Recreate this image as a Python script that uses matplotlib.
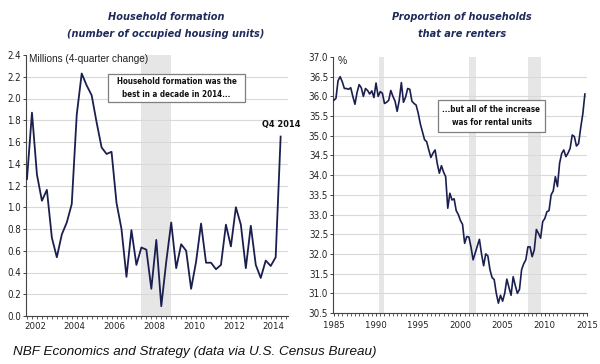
import matplotlib
matplotlib.use("Agg")
import matplotlib.pyplot as plt
import matplotlib.font_manager as fm
from matplotlib.patches import Rectangle
import numpy as np

# ---------------- data ----------------
# Household formation, millions (4-quarter change), quarterly 2002Q1..2014Q4
hh_start_year = 2002
hh_values = [1.26, 1.87, 1.30, 1.06, 1.16, 0.72, 0.54, 0.75,
             0.86, 1.03, 1.85, 2.23, 2.12, 2.03, 1.78, 1.55,
             1.49, 1.51, 1.04, 0.80, 0.36, 0.79, 0.47, 0.63,
             0.61, 0.25, 0.70, 0.09, 0.50, 0.86, 0.44, 0.66,
             0.60, 0.25, 0.50, 0.85, 0.49, 0.49, 0.43, 0.47,
             0.84, 0.64, 1.00, 0.84, 0.44, 0.83, 0.47, 0.35,
             0.51, 0.46, 0.54, 1.65]

# Proportion of households that are renters, %, quarterly 1985Q1..2014Q4
rent_start_year = 1985
rent_values = [35.90, 35.95, 36.40, 36.50, 36.37, 36.20, 36.20, 36.18,  # 85-86
               36.22, 36.00, 35.80, 36.10, 36.30, 36.22, 36.00, 36.20,  # 87-88
               36.15, 36.06, 36.14, 35.97, 36.34, 36.00, 36.12, 36.08,  # 89-90
               35.82, 35.85, 35.90, 36.15, 36.00, 35.88, 35.62, 35.90,  # 91-92
               36.35, 35.85, 35.98, 36.20, 36.18, 35.88, 35.82, 35.78,  # 93-94
               35.57, 35.30, 35.10, 34.90, 34.85, 34.64, 34.45, 34.56,  # 95-96
               34.64, 34.30, 34.05, 34.24, 34.08, 33.96, 33.16, 33.54,  # 97-98
               33.37, 33.40, 33.10, 33.00, 32.85, 32.75, 32.27, 32.44,  # 99-00
               32.43, 32.18, 31.85, 32.02, 32.20, 32.37, 32.00, 31.70,  # 01-02
               32.00, 31.95, 31.60, 31.40, 31.35, 31.00, 30.75, 30.95,  # 03-04
               30.80, 31.00, 31.36, 31.15, 30.95, 31.42, 31.20, 31.00,  # 05-06
               31.10, 31.60, 31.75, 31.85, 32.18, 32.18, 31.93, 32.10,  # 07-08
               32.62, 32.52, 32.40, 32.82, 32.90, 33.07, 33.10, 33.50,  # 09-10
               33.60, 33.96, 33.71, 34.30, 34.55, 34.64, 34.47, 34.56,  # 11-12
               34.68, 35.02, 34.98, 34.74, 34.80, 35.20, 35.55, 36.06]  # 13-14

hh_year_labels = [2002, 2004, 2006, 2008, 2010, 2012, 2014]
rent_year_labels = [1985, 1990, 1995, 2000, 2005, 2010, 2015]
hh_yticks = [0.0, 0.2, 0.4, 0.6, 0.8, 1.0, 1.2, 1.4, 1.6, 1.8, 2.0, 2.2, 2.4]
rent_yticks = [30.5, 31.0, 31.5, 32.0, 32.5, 33.0, 33.5, 34.0, 34.5, 35.0, 35.5, 36.0, 36.5, 37.0]

hh_recessions = [(2007.75, 2009.25)]
rent_recessions = [(1990.4, 1990.9), (2001.0, 2001.8), (2008.0, 2009.5)]

# ---------------- fonts ----------------
def _is_cond(f):
    st = f.stretch
    if isinstance(st, str):
        if "condensed" in st:
            return True
    elif isinstance(st, (int, float)) and st < 500:
        return True
    return ("Narrow" in f.name) or ("Condensed" in f.name) or \
        ("Narrow" in f.fname) or ("Condensed" in f.fname)

def _is_bold(f):
    w = f.weight
    if isinstance(w, str):
        return w in ("bold", "heavy", "black", "demibold", "semibold", "extra bold")
    return w >= 600

def find_cond(bold, italic=False):
    prefs = ["Liberation Sans Narrow", "Arial Narrow", "DejaVu Sans", "Roboto Condensed",
             "Roboto", "Open Sans", "Noto Sans", "Lato", "Inter"]
    cands = [f for f in fm.fontManager.ttflist
             if _is_cond(f) and ((f.style != "normal") == italic) and _is_bold(f) == bold]
    for p in prefs:
        for f in cands:
            if f.name == p:
                return f.fname
    return cands[0].fname if cands else None

def narrow_fp(size, bold=False, italic=False):
    fn = find_cond(bold, italic)
    if fn:
        return fm.FontProperties(fname=fn, size=size)
    return fm.FontProperties(family="Liberation Sans", size=size * 0.85,
                             weight="bold" if bold else "normal",
                             style="italic" if italic else "normal")

SANS = ["Liberation Sans", "DejaVu Sans"]

# ---------------- style ----------------
LINE = "#1b1f50"
TITLE = "#1f2a5a"
SHADE = "#e6e6e6"
GRID = "#d9d9d9"
W, H = 600.0, 364.0

fig = plt.figure(figsize=(6.0, 3.64), dpi=100)

def style_axes(ax, yticks, fmt):
    for s in ["top", "right"]:
        ax.spines[s].set_visible(False)
    for s in ["left", "bottom"]:
        ax.spines[s].set_color("#444444")
        ax.spines[s].set_linewidth(0.8)
    ax.set_yticks(yticks)
    ax.set_yticklabels([fmt.format(v) for v in yticks], fontproperties=narrow_fp(7))
    ax.tick_params(axis="y", length=2.5, width=0.6, pad=1, colors="#222222")
    for v in yticks[:-1]:
        ax.axhline(v, color=GRID, lw=0.8, zorder=0)

def note_box(x0, x1, y0, y1, text):
    fig.add_artist(Rectangle((x0/W, 1-y1/H), (x1-x0)/W, (y1-y0)/H,
                             transform=fig.transFigure, fc="white", ec="#7f7f7f",
                             lw=0.9, zorder=5))
    fig.text((x0+x1)/2/W, 1-(y0+y1)/2/H, text, fontproperties=narrow_fp(5.8, bold=True),
             ha="center", va="center", linespacing=1.6, color="#111111", zorder=6)

def title2(xc, l1, l2):
    fp = narrow_fp(7.8, bold=True, italic=True)
    fig.text(xc/W, 1-17/H, l1, fontproperties=fp, ha="center", va="center", color=TITLE)
    fig.text(xc/W, 1-34/H, l2, fontproperties=fp, ha="center", va="center", color=TITLE)

# ---------- left panel ----------
axL = fig.add_axes([26/W, 1-316/H, 262/W, 261/H])
hx = np.array([hh_start_year + i/4 for i in range(len(hh_values))])
for a, b in hh_recessions:
    axL.axvspan(a, b, color=SHADE, lw=0, zorder=0)
axL.plot(hx, hh_values, color=LINE, lw=1.3, zorder=3)
axL.set_xlim(2001.95, 2015.12)
axL.set_ylim(0, 2.4)
style_axes(axL, hh_yticks, "{:.1f}")
axL.set_xticks([y + 0.4 for y in hh_year_labels])
axL.set_xticklabels([str(y) for y in hh_year_labels], fontproperties=narrow_fp(6.8))
axL.set_xticks(np.arange(2002, 2015.1, 0.25), minor=True)
axL.tick_params(axis="x", which="major", length=0, pad=4, colors="#222222")
axL.tick_params(axis="x", which="minor", length=2, width=0.6, colors="#444444")
axL.text(0.012, 0.985, "Millions (4-quarter change)", transform=axL.transAxes,
         fontsize=7.2, family=SANS, va="center", ha="left", color="#222222")
fig.text(281/W, 1-125/H, "Q4 2014", fontproperties=narrow_fp(6.6, bold=True),
         ha="center", va="center", color="#111111")
note_box(108, 245, 74, 102, "Household formation was the\nbest in a decade in 2014...")
title2(166, "Household formation", "(number of occupied housing units)")

# ---------- right panel ----------
axR = fig.add_axes([333/W, 1-313/H, 254/W, 256/H])
rx = np.array([rent_start_year + i/4 for i in range(len(rent_values))])
for a, b in rent_recessions:
    axR.axvspan(a, b, color=SHADE, lw=0, zorder=0)
axR.plot(rx, rent_values, color=LINE, lw=1.2, zorder=3)
axR.set_xlim(1984.9, 2015.0)
axR.set_ylim(30.5, 37.0)
style_axes(axR, rent_yticks, "{:.1f}")
axR.set_xticks(rent_year_labels)
axR.set_xticklabels([str(y) for y in rent_year_labels], fontproperties=narrow_fp(6.8))
axR.set_xticks(np.arange(1985, 2015.01, 0.5), minor=True)
axR.tick_params(axis="x", which="major", length=2.5, width=0.6, pad=3, colors="#222222")
axR.tick_params(axis="x", which="minor", length=2, width=0.6, colors="#444444")
axR.text(0.02, 0.985, "%", transform=axR.transAxes, fontsize=7.5, family=SANS,
         va="center", ha="left", color="#222222")
note_box(438, 545, 100, 132, "...but all of the increase\nwas for rental units")
title2(462, "Proportion of households", "that are renters")

fig.text(13/W, 1-352/H, "NBF Economics and Strategy (data via U.S. Census Bureau)",
         fontsize=9.7, style="italic", family=SANS, ha="left", va="center",
         color="#111111")

fig.savefig("out.png", dpi=100)
